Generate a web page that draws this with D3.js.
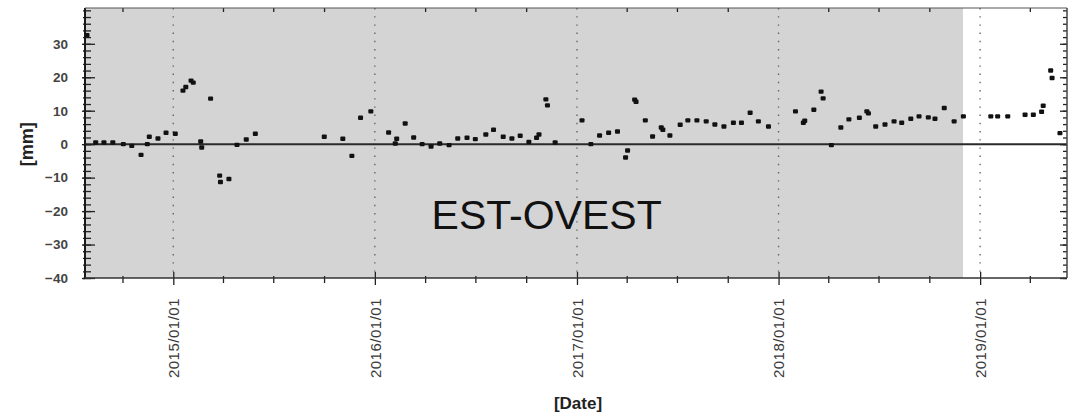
<!DOCTYPE html>
<html>
<head>
<meta charset="utf-8">
<script src="https://cdn.jsdelivr.net/npm/d3@7"></script>
<style>
  body { margin: 0; background: #fff; }
  svg { display: block; font-family: "Liberation Sans", Arial, sans-serif; }
</style>
</head>
<body>
<div id="chart"></div>
<script>
// acquisition epochs as decimal years
const epochs = [
  2014.572, 2014.615, 2014.656, 2014.700, 2014.752, 2014.794, 2014.840, 2014.871, 2014.881, 2014.924,
  2014.964, 2015.010, 2015.048, 2015.062, 2015.088, 2015.099, 2015.136, 2015.141, 2015.185, 2015.230,
  2015.234, 2015.276, 2015.316, 2015.362, 2015.407, 2015.749, 2015.841, 2015.886, 2015.929, 2015.980,
  2016.068, 2016.101, 2016.108, 2016.150, 2016.192, 2016.234, 2016.278, 2016.321, 2016.367, 2016.410,
  2016.456, 2016.497, 2016.549, 2016.587, 2016.635, 2016.678, 2016.719, 2016.762, 2016.800, 2016.812,
  2016.846, 2016.854, 2016.892, 2017.025, 2017.069, 2017.112, 2017.157, 2017.201, 2017.241, 2017.251,
  2017.286, 2017.293, 2017.339, 2017.375, 2017.418, 2017.426, 2017.461, 2017.512, 2017.550, 2017.595,
  2017.641, 2017.684, 2017.729, 2017.776, 2017.816, 2017.859, 2017.900, 2017.950, 2018.084, 2018.123,
  2018.130, 2018.175, 2018.211, 2018.221, 2018.262, 2018.309, 2018.349, 2018.401, 2018.438, 2018.446,
  2018.482, 2018.528, 2018.573, 2018.611, 2018.656, 2018.697, 2018.743, 2018.776, 2018.822, 2018.871,
  2018.917, 2019.053, 2019.087, 2019.137, 2019.223, 2019.264, 2019.305, 2019.313, 2019.350, 2019.357,
  2019.396
];
// east-west displacement [mm]
const displacement = [
  32.6, 0.5, 0.5, 0.5, 0.0, -0.5, -3.2, 0.0, 2.2, 1.7,
  3.4, 3.1, 16.0, 17.1, 19.0, 18.4, 0.8, -1.0, 13.6, -9.4,
  -11.3, -10.4, -0.2, 1.4, 3.1, 2.2, 1.6, -3.5, 7.9, 9.8,
  3.5, 0.2, 1.6, 6.2, 2.0, 0.0, -0.7, 0.2, -0.3, 1.7,
  1.9, 1.5, 2.9, 4.3, 2.2, 1.7, 2.5, 0.7, 1.9, 2.9,
  13.4, 11.6, 0.5, 7.1, 0.0, 2.6, 3.4, 3.8, -4.0, -1.9,
  13.3, 12.7, 7.1, 2.3, 5.0, 4.3, 2.6, 5.8, 7.1, 7.1,
  6.8, 5.9, 5.3, 6.4, 6.4, 9.4, 6.8, 5.3, 9.8, 6.4,
  7.0, 10.3, 15.7, 13.7, -0.3, 5.0, 7.4, 7.9, 9.8, 9.2,
  5.3, 5.9, 6.8, 6.4, 7.6, 8.3, 8.0, 7.6, 10.8, 6.8,
  8.3, 8.3, 8.3, 8.3, 8.8, 8.8, 9.7, 11.5, 22.0, 19.8,
  3.3
];
const timeExtent = [2014.562, 2019.431];
const shadedUntil = 2018.915;
const yDomain = [-40, 40.7];
const yMajorTicks = [-40, -30, -20, -10, 0, 10, 20, 30];
const yMinorTicks = d3.range(-40, 41, 2);
const yearTicks = ['2015-01-01', '2016-01-01', '2017-01-01', '2018-01-01', '2019-01-01'];
const title = 'EST-OVEST';
const yLabel = '[mm]';
const xLabel = '[Date]';

const toDate = (y) => {
  const yr = Math.floor(y);
  const a = Date.UTC(yr, 0, 1), b = Date.UTC(yr + 1, 0, 1);
  return new Date(a + (y - yr) * (b - a));
};

const W = 1073, H = 415;
const margin = { top: 8, right: 6, bottom: 137, left: 85 };
const width = W - margin.left - margin.right;
const height = H - margin.top - margin.bottom;

const x = d3.scaleUtc().domain(timeExtent.map(toDate)).range([0, width]);
const y = d3.scaleLinear().domain(yDomain).range([height, 0]);

const years = yearTicks.map((d) => new Date(d + 'T00:00:00Z'));
const quarters = d3.utcMonth.every(3).range(x.domain()[0], x.domain()[1])
  .filter((d) => d.getUTCMonth() !== 0);

const svg = d3.select('#chart').append('svg')
  .attr('width', W).attr('height', H);

const g = svg.append('g')
  .attr('transform', 'translate(' + margin.left + ',' + margin.top + ')');

// background: grey up to the last shaded epoch, white after
g.append('rect')
  .attr('x', 0).attr('y', 0)
  .attr('width', x(toDate(shadedUntil)))
  .attr('height', height)
  .attr('fill', '#d4d4d4');

// dotted year grid
g.selectAll('.grid')
  .data(years)
  .enter()
  .append('line')
  .attr('class', 'grid')
  .attr('x1', (d) => x(d)).attr('x2', (d) => x(d))
  .attr('y1', 0).attr('y2', height)
  .attr('stroke', '#666')
  .attr('stroke-width', 1.4)
  .attr('stroke-dasharray', '1.4 6.8');

// zero line
g.append('line')
  .attr('x1', 0).attr('x2', width)
  .attr('y1', y(0)).attr('y2', y(0))
  .attr('stroke', '#2a2a2a')
  .attr('stroke-width', 2);

const styleAxis = (sel) => {
  sel.select('.domain').remove();
  sel.selectAll('line').attr('stroke', '#222').attr('stroke-width', 1.3);
  sel.selectAll('text').attr('fill', '#3a3a3a');
  return sel;
};

// y axis: labels with outer ticks, inner ticks
g.append('g')
  .call(d3.axisLeft(y).tickValues(yMajorTicks).tickSize(3).tickPadding(14).tickFormat(d3.format('d')))
  .call(styleAxis)
  .selectAll('text')
  .attr('font-size', 13.5).attr('font-weight', 'bold').attr('fill', '#444');
g.append('g')
  .call(d3.axisRight(y).tickValues(yMajorTicks).tickSize(10).tickFormat(''))
  .call(styleAxis);
g.append('g')
  .call(d3.axisRight(y).tickValues(yMinorTicks).tickSize(6).tickFormat(''))
  .call(styleAxis);
g.append('g')
  .call(d3.axisLeft(y).tickValues(yMinorTicks).tickSize(2).tickFormat(''))
  .call(styleAxis);

// right side ticks (inward)
g.append('g')
  .attr('transform', 'translate(' + width + ',0)')
  .call(d3.axisLeft(y).tickValues(yMajorTicks).tickSize(7).tickFormat(''))
  .call(styleAxis);
g.append('g')
  .attr('transform', 'translate(' + width + ',0)')
  .call(d3.axisLeft(y).tickValues(yMinorTicks).tickSize(4).tickFormat(''))
  .call(styleAxis);

// x axis bottom
const xAxisG = g.append('g')
  .attr('transform', 'translate(0,' + height + ')');
xAxisG.append('g')
  .call(d3.axisBottom(x).tickValues(years).tickSize(7).tickFormat(d3.utcFormat('%Y/%m/%d')))
  .call(styleAxis)
  .selectAll('text')
  .attr('font-size', 15)
  .attr('letter-spacing', 0.5)
  .attr('transform', 'rotate(-90)')
  .attr('text-anchor', 'end')
  .attr('x', -20)
  .attr('y', 0)
  .attr('dy', '0.35em');
xAxisG.append('g')
  .call(d3.axisTop(x).tickValues(years).tickSize(6).tickFormat(''))
  .call(styleAxis);
xAxisG.append('g')
  .call(d3.axisBottom(x).tickValues(quarters).tickSize(5).tickFormat(''))
  .call(styleAxis);
xAxisG.append('g')
  .call(d3.axisTop(x).tickValues(quarters).tickSize(2).tickFormat(''))
  .call(styleAxis);

// top ticks (inward)
g.append('g')
  .call(d3.axisBottom(x).tickValues(quarters).tickSize(4).tickFormat(''))
  .call(styleAxis);

// frame
g.append('line').attr('x1', 0).attr('x2', 0).attr('y1', 0).attr('y2', height)
  .attr('stroke', '#1a1a1a').attr('stroke-width', 2);
g.append('line').attr('x1', 0).attr('x2', width).attr('y1', height).attr('y2', height)
  .attr('stroke', '#333').attr('stroke-width', 1.5);
g.append('line').attr('x1', 0).attr('x2', width).attr('y1', 0).attr('y2', 0)
  .attr('stroke', '#555').attr('stroke-width', 1.2);
g.append('line').attr('x1', width).attr('x2', width).attr('y1', 0).attr('y2', height)
  .attr('stroke', '#444').attr('stroke-width', 1.5);

// points
const points = epochs.map((e, i) => ({ date: toDate(e), v: displacement[i] }));
g.selectAll('.pt')
  .data(points)
  .enter()
  .append('rect')
  .attr('class', 'pt')
  .attr('x', (d) => x(d.date) - 2.5)
  .attr('y', (d) => y(d.v) - 2.2)
  .attr('width', 5)
  .attr('height', 4.4)
  .attr('rx', 1)
  .attr('fill', '#111');

// big label inside the plot
g.append('text')
  .attr('x', x(toDate(2016.85)))
  .attr('y', y(-25.3))
  .attr('text-anchor', 'middle')
  .attr('font-size', 41)
  .attr('fill', '#111')
  .text(title);

// axis titles
svg.append('text')
  .attr('transform', 'translate(33,' + (margin.top + y(0)) + ') rotate(-90)')
  .attr('text-anchor', 'middle')
  .attr('font-size', 18)
  .attr('font-weight', 'bold')
  .attr('fill', '#222')
  .text(yLabel);

svg.append('text')
  .attr('x', 578)
  .attr('y', 409)
  .attr('text-anchor', 'middle')
  .attr('font-size', 17)
  .attr('font-weight', 'bold')
  .attr('fill', '#222')
  .text(xLabel);
</script>
</body>
</html>
